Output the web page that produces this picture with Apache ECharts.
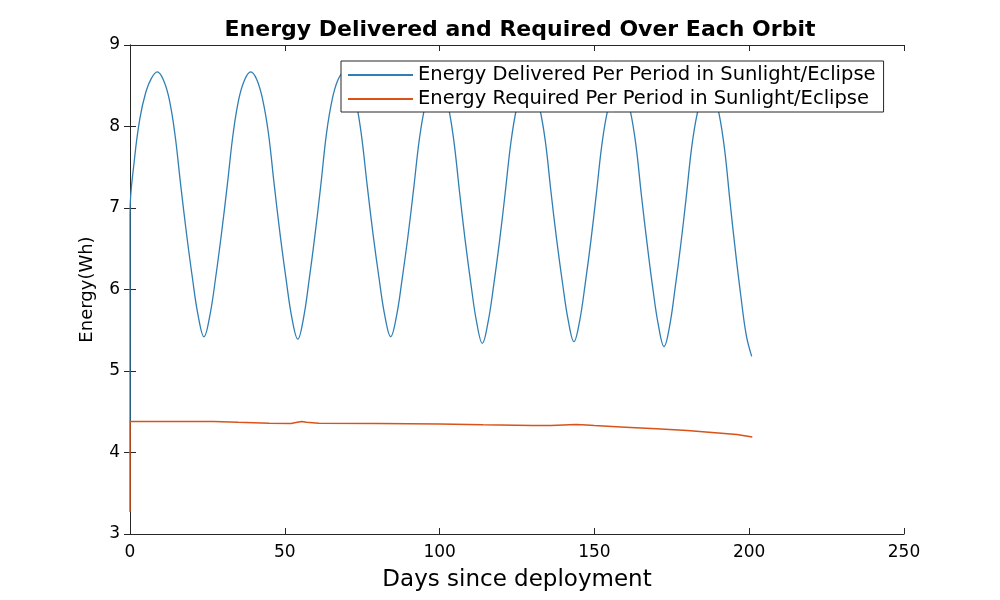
<!DOCTYPE html>
<html>
<head>
<meta charset="utf-8">
<script src="https://cdn.jsdelivr.net/npm/echarts@6/dist/echarts.min.js"></script>
<style>html,body{margin:0;padding:0;background:#fff;}#chart{width:1000px;height:600px;}</style>
</head>
<body>
<div id="chart"></div>
<script>
var titleText = 'Energy Delivered and Required Over Each Orbit';
var xName = 'Days since deployment';
var yName = 'Energy(Wh)';
var seriesNames = ['Energy Delivered Per Period in Sunlight/Eclipse', 'Energy Required Per Period in Sunlight/Eclipse'];

// Energy delivered (Wh): days and values
var deliveredDays = [
  0, 0, 1.5, 3.2, 5.1, 6.9, 8.8,
  10.69, 12.58, 14.46, 16.35, 18.24, 20.13, 22.01, 23.9,
  25.79, 27.68, 29.56, 31.45, 33.34, 35.23, 37.11, 39.0,
  40.9, 42.8, 44.7, 46.6, 48.5, 50.4, 52.3, 54.2,
  56.05, 57.9, 59.75, 61.6, 63.45, 65.3, 67.15, 69.0,
  70.9, 72.8, 74.7, 76.6, 78.5, 80.4, 82.3, 84.2,
  86.06, 87.91, 89.77, 91.63, 93.48, 95.34, 97.19, 99.05,
  100.89, 102.74, 104.58, 106.43, 108.27, 110.11, 111.96, 113.8,
  115.65, 117.5, 119.35, 121.2, 123.05, 124.9, 126.75, 128.6,
  130.45, 132.3, 134.15, 136.0, 137.85, 139.7, 141.55, 143.4,
  145.21, 147.03, 148.84, 150.65, 152.46, 154.28, 156.09, 157.9,
  159.73, 161.55, 163.38, 165.2, 167.03, 168.85, 170.68, 172.5,
  174.29, 176.08, 177.86, 179.65, 181.44, 183.23, 185.01, 186.8,
  188.55, 190.3, 192.05, 193.8, 195.55, 197.3, 199.05, 200.8
];
var deliveredWh = [
  4.38, 6.93, 7.62, 8.10, 8.42, 8.59, 8.67,
  8.58, 8.35, 7.92, 7.29, 6.69, 6.15, 5.68, 5.42,
  5.68, 6.15, 6.69, 7.29, 7.92, 8.35, 8.58, 8.67,
  8.58, 8.34, 7.92, 7.28, 6.67, 6.13, 5.65, 5.39,
  5.65, 6.13, 6.67, 7.27, 7.91, 8.33, 8.57, 8.66,
  8.57, 8.34, 7.91, 7.28, 6.68, 6.15, 5.68, 5.42,
  5.67, 6.13, 6.65, 7.24, 7.85, 8.26, 8.49, 8.58,
  8.49, 8.26, 7.83, 7.20, 6.60, 6.07, 5.60, 5.34,
  5.60, 6.06, 6.59, 7.19, 7.81, 8.23, 8.46, 8.55,
  8.46, 8.23, 7.82, 7.19, 6.60, 6.08, 5.62, 5.36,
  5.61, 6.07, 6.59, 7.18, 7.79, 8.20, 8.43, 8.52,
  8.43, 8.20, 7.78, 7.15, 6.56, 6.02, 5.56, 5.30,
  5.55, 6.02, 6.54, 7.13, 7.75, 8.16, 8.39, 8.48,
  8.39, 8.15, 7.72, 7.08, 6.47, 5.92, 5.44, 5.18
];

// Energy required (Wh): days and values
var requiredDays = [0, 0, 10, 27, 35, 45, 52, 54, 55.5, 57, 61, 80, 100, 114, 130, 136, 144, 146, 150, 160, 170, 180, 190, 196, 201];
var requiredWh = [3.27, 4.38, 4.38, 4.38, 4.37, 4.36, 4.355, 4.37, 4.38, 4.37, 4.36, 4.355, 4.35, 4.34, 4.33, 4.33, 4.345, 4.34, 4.33, 4.31, 4.29, 4.27, 4.24, 4.22, 4.19];

function pairs(xs, ys) { return xs.map(function (x, i) { return [x, ys[i]]; }); }

var axisColor = '#262626';
var font = 'DejaVu Sans';
var chart = echarts.init(document.getElementById('chart'));
chart.setOption({
  backgroundColor: '#ffffff',
  animation: false,
  title: {
    text: titleText, left: 515, top: 14, textAlign: 'center',
    textStyle: { fontFamily: font, fontSize: 22, fontWeight: 'bold', color: '#000' }
  },
  grid: { left: 130, right: 96, top: 45, bottom: 66 },
  legend: {
    orient: 'vertical', left: 341, top: 61,
    data: seriesNames,
    itemWidth: 65, itemHeight: 14, itemGap: 4,
    itemStyle: { opacity: 0 },
    backgroundColor: '#ffffff', borderColor: axisColor, borderWidth: 1,
    padding: [4, 8, 3, 6],
    textStyle: { fontFamily: font, fontSize: 19.5, color: '#000' }
  },
  xAxis: [{
    type: 'value', min: 0, max: 250, interval: 50,
    name: xName, nameLocation: 'middle', nameGap: 35,
    nameTextStyle: { fontFamily: font, fontSize: 23, color: '#000' },
    axisLine: { show: true, lineStyle: { color: axisColor } },
    axisTick: { show: true, inside: true, length: 6, lineStyle: { color: axisColor } },
    axisLabel: { fontFamily: font, fontSize: 17, color: '#000', margin: 10 },
    splitLine: { show: false }
  }, {
    type: 'value', min: 0, max: 250, interval: 50, position: 'top',
    axisLine: { show: true, lineStyle: { color: axisColor } },
    axisTick: { show: true, inside: true, length: 6, lineStyle: { color: axisColor } },
    axisLabel: { show: false }, splitLine: { show: false }
  }],
  yAxis: [{
    type: 'value', min: 3, max: 9, interval: 1,
    name: yName, nameLocation: 'middle', nameGap: 34,
    nameTextStyle: { fontFamily: font, fontSize: 18, color: '#000' },
    axisLine: { show: true, lineStyle: { color: axisColor } },
    axisTick: { show: true, inside: true, length: 6, lineStyle: { color: axisColor } },
    axisLabel: { fontFamily: font, fontSize: 17, color: '#000', margin: 10 },
    splitLine: { show: false }
  }, {
    type: 'value', min: 3, max: 9, interval: 1, position: 'right',
    axisLine: { show: true, lineStyle: { color: axisColor } },
    axisTick: { show: true, inside: true, length: 6, lineStyle: { color: axisColor } },
    axisLabel: { show: false }, splitLine: { show: false }
  }],
  series: [{
    name: seriesNames[0], type: 'line', data: pairs(deliveredDays, deliveredWh),
    symbol: 'none', smooth: 0.4,
    lineStyle: { color: '#2f7fb5', width: 1.3 }, itemStyle: { color: '#2f7fb5' }
  }, {
    name: seriesNames[1], type: 'line', data: pairs(requiredDays, requiredWh),
    symbol: 'none',
    lineStyle: { color: '#D95319', width: 1.5 }, itemStyle: { color: '#D95319' }
  }]
});
</script>
</body>
</html>
